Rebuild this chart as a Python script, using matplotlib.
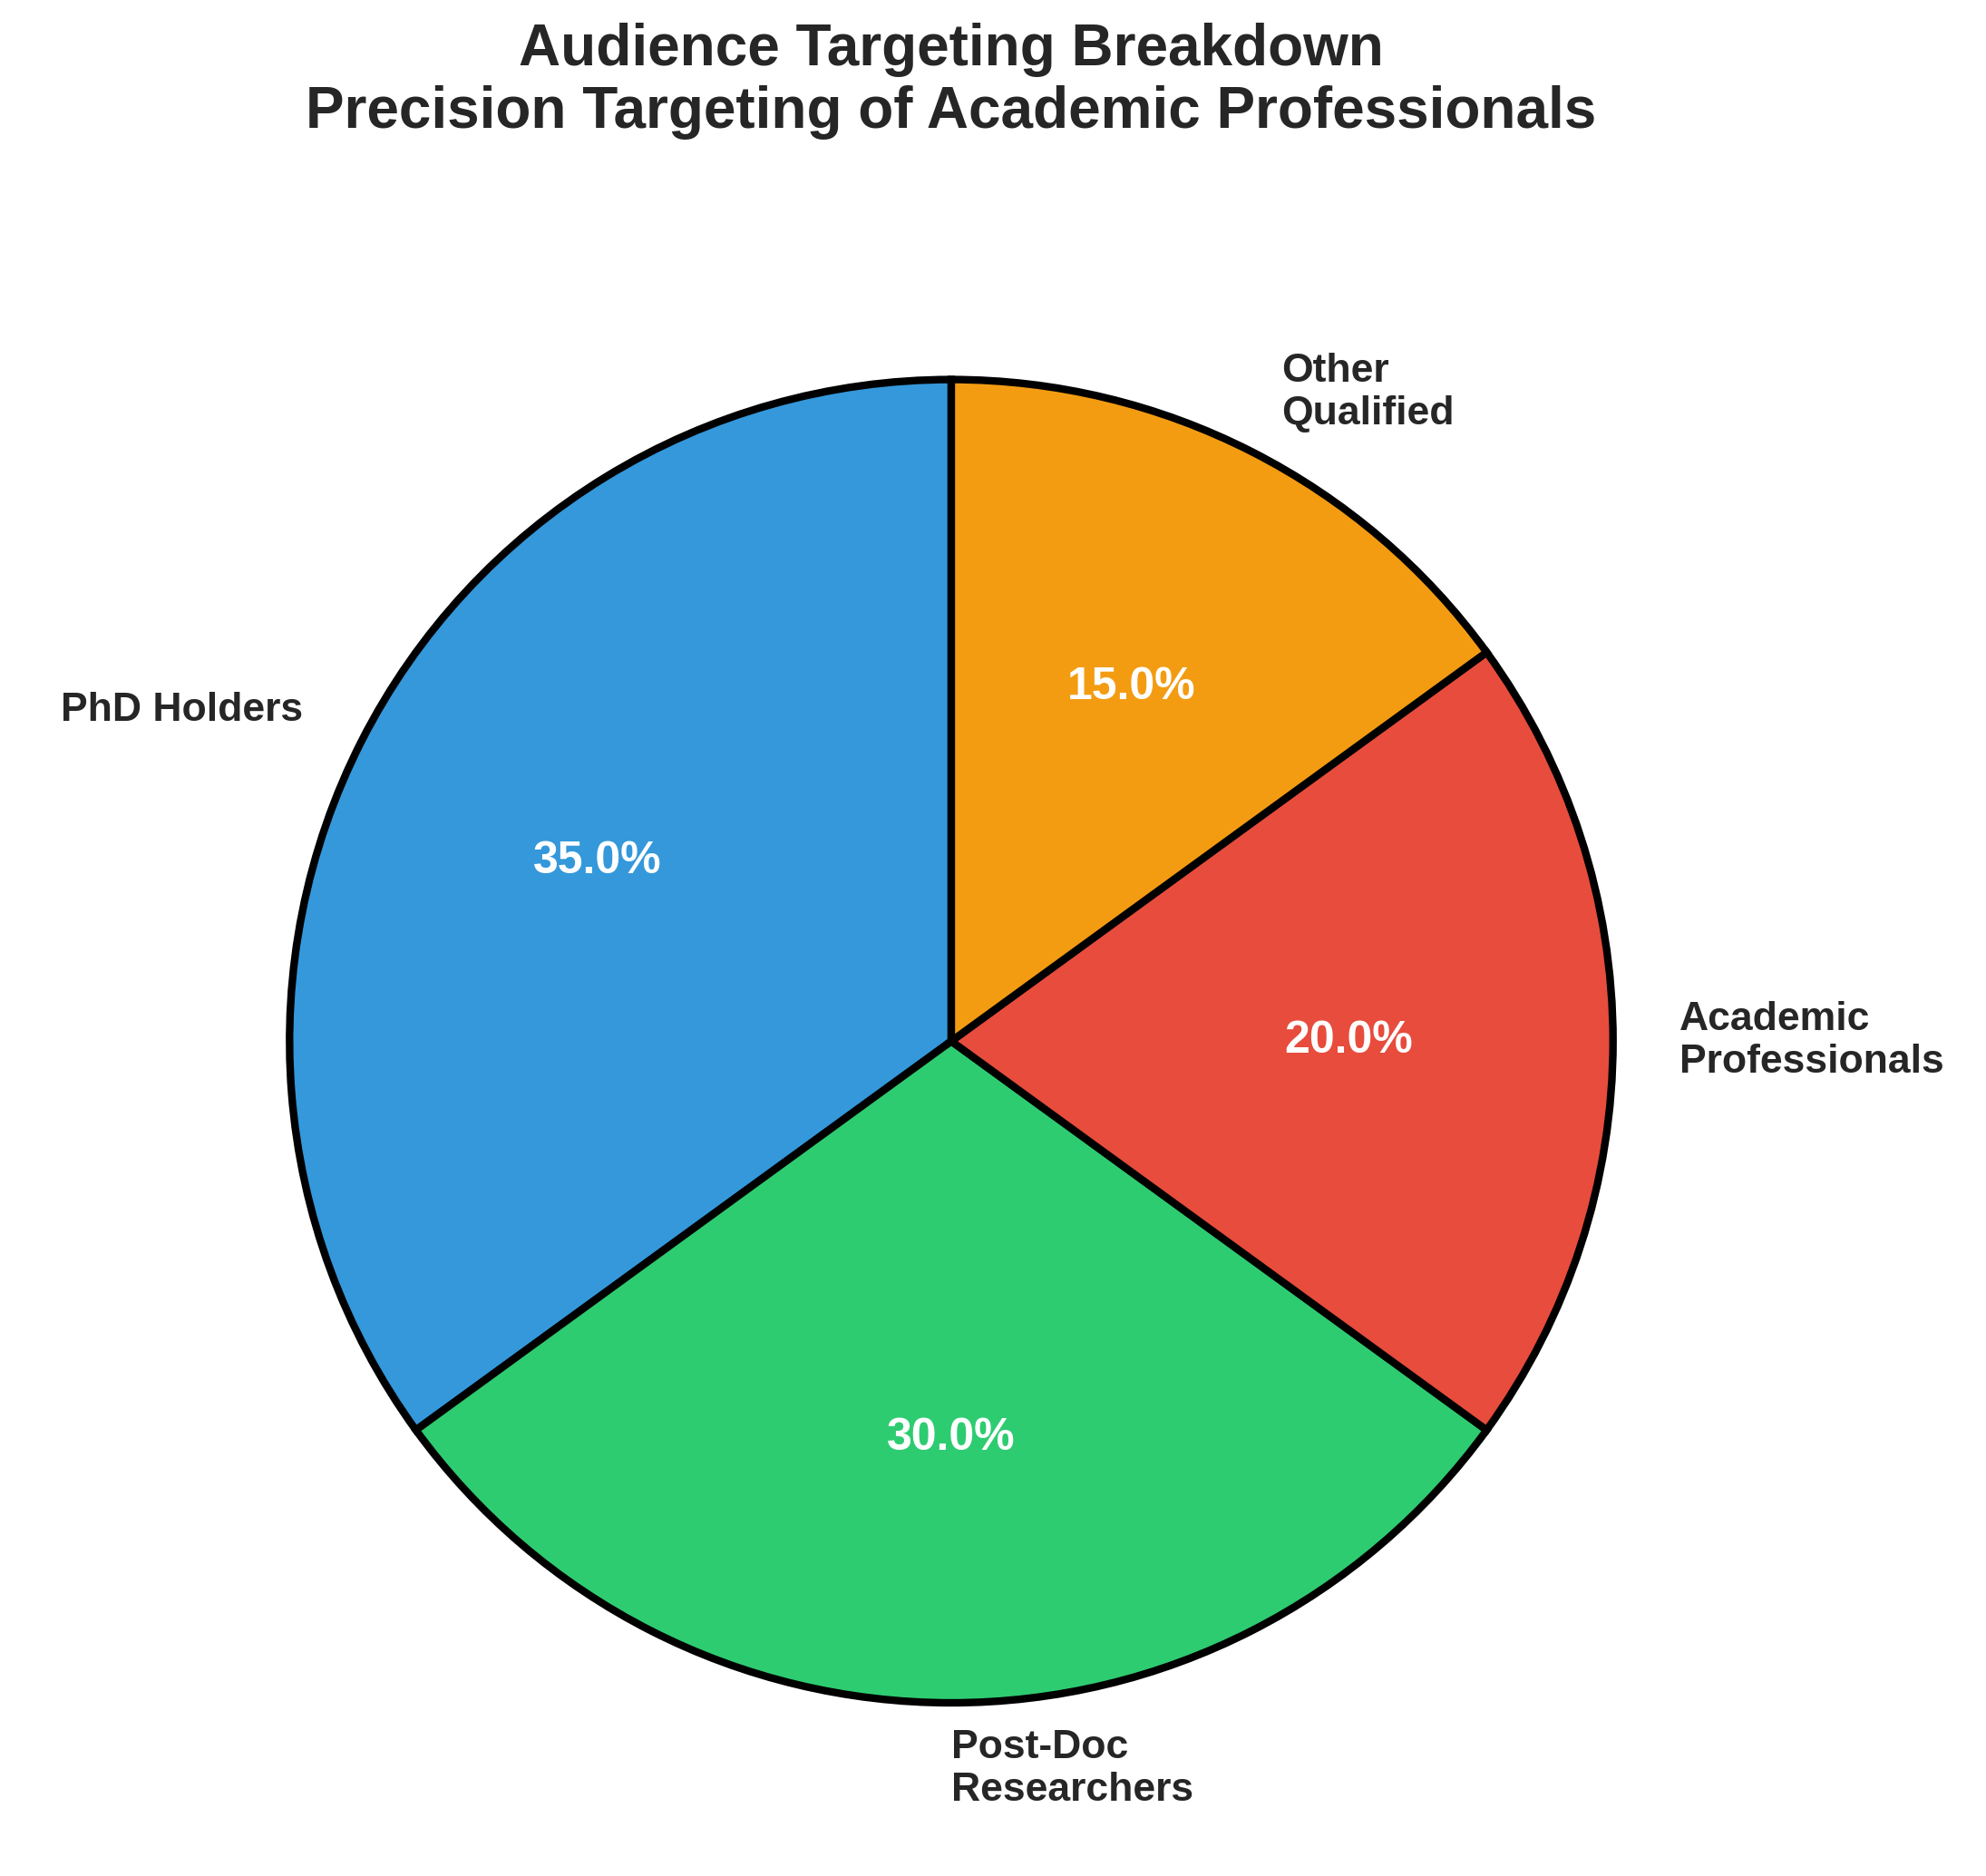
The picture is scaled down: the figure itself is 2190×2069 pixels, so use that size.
import matplotlib.pyplot as plt

plt.rcParams['font.family'] = ['Liberation Sans', 'DejaVu Sans']

labels = ['PhD Holders', 'Post-Doc\nResearchers', 'Academic\nProfessionals', 'Other\nQualified']
shares = [35, 30, 20, 15]
colors = ['#3498db', '#2ecc71', '#e74c3c', '#f39c12']

fig = plt.figure(figsize=(10.95, 10.345), dpi=200)
ax = fig.add_axes([0.0625, 0.004, 0.833, 0.882])
wedges, texts, autotexts = ax.pie(shares, labels=labels, colors=colors, startangle=90,
                                  autopct='%1.1f%%', pctdistance=0.6, labeldistance=1.1,
                                  wedgeprops={'edgecolor': 'black', 'linewidth': 3})
for t in texts:
    t.set_fontsize(16)
    t.set_fontweight('bold')
    t.set_color('#262626')
for t in autotexts:
    t.set_fontsize(18)
    t.set_fontweight('bold')
    t.set_color('white')
fig.suptitle('Audience Targeting Breakdown\nPrecision Targeting of Academic Professionals',
             fontsize=23, fontweight='bold', color='#262626', y=0.988, x=0.479)
plt.savefig('out.png')
